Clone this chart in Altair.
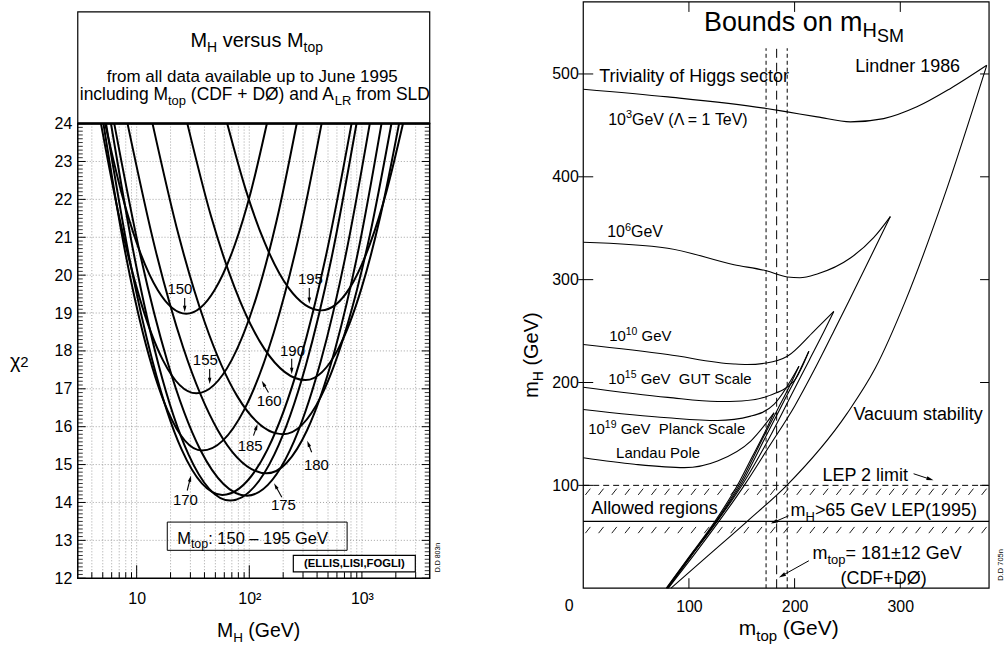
import math
import altair as alt
import pandas as pd

FONT = "Liberation Sans"

# ================= LEFT PANEL DATA =================
mtop_list = [150, 155, 160, 165, 170, 175, 180, 185, 190, 195]
curve_logmh = [
    [0.720, 0.864, 1.008, 1.188, 1.440, 1.691, 1.870, 2.013, 2.156],
    [0.683, 0.852, 1.022, 1.234, 1.530, 1.842, 2.065, 2.243, 2.421],
    [0.705, 0.880, 1.055, 1.274, 1.580, 1.952, 2.217, 2.430, 2.642],
    [0.728, 0.934, 1.141, 1.399, 1.760, 2.162, 2.449, 2.678, 2.908],
    [0.772, 0.984, 1.195, 1.460, 1.830, 2.223, 2.503, 2.728, 2.952],
    [0.801, 1.037, 1.273, 1.567, 1.980, 2.362, 2.634, 2.852, 3.070],
    [0.919, 1.166, 1.413, 1.722, 2.155, 2.512, 2.766, 2.970, 3.174],
    [1.141, 1.373, 1.605, 1.894, 2.300, 2.637, 2.877, 3.070, 3.262],
    [1.450, 1.660, 1.870, 2.133, 2.500, 2.791, 2.998, 3.164, 3.330],
    [1.804, 1.971, 2.138, 2.347, 2.640, 2.894, 3.075, 3.220, 3.365],
]
curve_chi2 = [
    [24, 22.19, 20.79, 19.60, 18.98, 19.60, 20.79, 22.19, 24],
    [24, 21.44, 19.44, 17.75, 16.88, 17.75, 19.44, 21.44, 24],
    [24, 20.89, 18.48, 16.43, 15.37, 16.43, 18.48, 20.89, 24],
    [24, 20.47, 17.73, 15.40, 14.20, 15.40, 17.73, 20.47, 24],
    [24, 20.42, 17.63, 15.27, 14.05, 15.27, 17.63, 20.42, 24],
    [24, 20.47, 17.72, 15.38, 14.18, 15.38, 17.72, 20.47, 24],
    [24, 20.68, 18.09, 15.90, 14.77, 15.90, 18.09, 20.68, 24],
    [24, 21.05, 18.75, 16.80, 15.80, 16.80, 18.75, 21.05, 24],
    [24, 21.56, 19.67, 18.06, 17.23, 18.06, 19.67, 21.56, 24],
    [24, 22.23, 20.85, 19.67, 19.07, 19.67, 20.85, 22.23, 24],
]
lbl_text = ["150", "195", "190", "155", "160", "185", "180", "170", "175"]
lbl_mh = [24.2, 349, 242, 40.7, 150, 101.9, 394.5, 27.1, 201]
lbl_chi2 = [19.645, 19.908, 18.0, 17.763, 16.684, 15.5, 15.0, 14.053, 13.921]
arr_mh0 = [26.7, 341, 238, 44.5, 148, 109, 358, 28.1, 194.5]
arr_c0 = [19.395, 19.658, 17.79, 17.526, 16.903, 15.763, 15.324, 14.316, 14.139]
arr_mh1 = [26.7, 341, 238, 44.5, 129, 118.3, 327, 30.4, 166]
arr_c1 = [19.026, 19.245, 17.387, 17.124, 17.21, 16.071, 15.632, 14.711, 14.508]

x_major = [10, 100, 1000]
x_minor = [m * 10 ** e for e in range(0, 4) for m in range(2, 10) if 3 < m * 10 ** e < 4000]
y_labels = list(range(12, 25))
y_grid = list(range(13, 24))
y_minor = [round(12 + i / 10, 1) for i in range(1, 120) if i % 10]

# ================= RIGHT PANEL DATA =================
up_names = ["1e3", "1e6", "1e10", "1e15", "1e19", "landau"]
up_mtop = [
    [0, 80, 173.3, 193.1, 221.4, 252.8, 284.3, 315.7, 347.2, 381.8],
    [0, 79.9, 142.7, 173.3, 193.1, 205, 221.4, 252.8, 275, 290.6],
    [0, 79.9, 142.7, 155, 173.3, 193.1, 218.2, 237.1],
    [0, 80, 127, 150, 174.2, 199.3, 213.5],
    [0, 79.9, 127.1, 158.5, 180.5, 204.1],
    [0, 48.4, 95.6, 127.1, 158.5, 180.5],
]
up_mh = [
    [485.2, 477.7, 466.4, 463.1, 458.3, 453.4, 456.6, 468, 485.7, 508.4],
    [336.4, 330.6, 314.5, 308.6, 302.6, 301.8, 305.5, 321, 341, 361.3],
    [236.9, 227.2, 218, 217.5, 219, 225.5, 249.8, 269.1],
    [195.4, 185.5, 181.5, 182, 186.7, 201.3, 230.4],
    [173.8, 165.7, 163.1, 167.3, 178.7, 215.8],
    [126.9, 120.5, 117.2, 123.7, 143.1, 170.5],
]
lo_mtop = [
    [83, 120, 155.4, 193.1, 249.7, 276.4, 304.7, 340.9, 381.8],
    [80.5, 103, 127, 153, 176, 200, 220, 237.1, 251.3, 290.6],
    [80, 102, 126, 152, 176, 198, 214, 228, 237.1],
    [79.5, 101.5, 125.5, 151, 172, 190, 205, 213.5],
    [79, 101, 125, 150, 168, 184, 196, 204.1],
    [78.5, 100.5, 124, 148, 160, 172, 180.5],
]
lo_mh = [
    [0, 33.3, 65.3, 100.5, 170, 214, 278.9, 379, 508.4],
    [0, 30, 63, 101, 138, 177, 215, 249.8, 278.9, 361.3],
    [0, 31, 64, 103, 146, 190, 222, 250, 269.1],
    [0, 31, 64, 104, 146, 182, 212, 230.4],
    [0, 31, 64, 105, 142, 174, 198, 215.8],
    [0, 31, 64, 104, 128, 152, 170.5],
]
mtop_band = [173, 183, 193]
lep2_limit = 100
lep95_limit = 65
r_xticks = [100, 200, 300]
r_yticks = [100, 200, 300, 400, 500]

# ================= helpers =================
W = {' ': 278, '!': 278, '(': 333, ')': 333, '+': 584, ',': 278, '-': 333, '.': 278,
     '/': 278, ':': 278, '=': 584, '>': 584, '±': 584, '–': 556, 'Λ': 667, 'Ø': 778,
     'χ': 520, '\u00a0': 278}
for d in "0123456789":
    W[d] = 556
W.update(dict(A=667, B=667, C=722, D=722, E=667, F=611, G=778, H=722, I=278, J=500, K=667,
              L=556, M=833, N=722, O=778, P=667, Q=778, R=722, S=667, T=611, U=722, V=667,
              W=944, X=667, Y=667, Z=611))
W.update(dict(a=556, b=556, c=500, d=556, e=556, f=278, g=556, h=556, i=222, j=222, k=500,
              l=222, m=833, n=556, o=556, p=556, q=556, r=333, s=500, t=278, u=556, v=500,
              w=722, x=500, y=500, z=500))


def tw(s, size):
    return sum(W.get(ch, 556) for ch in s) * size / 1000.0


OFF = 122          # top of the left plot area (below the caption box)
LW, LPH = 353, 456  # left plot area
LH = OFF + LPH      # left panel view height
RW, RH = 407, 588

LXS = alt.Scale(type="log", domain=[3, 4000], nice=False)
LYS = alt.Scale(domain=[12, 24], range=[LH, OFF], nice=False, zero=False)
RXS = alt.Scale(domain=[0, 384], nice=False, zero=False)
RYS = alt.Scale(domain=[0, 570], nice=False, zero=False)

LAXX = alt.Axis(values=x_major, labelExpr="datum.value == 10 ? '10' : (datum.value == 100 ? '10²' : '10³')",
                ticks=False, tickSize=0, domain=False, grid=False, labelFont=FONT, labelFontSize=16,
                labelColor="black", labelPadding=12, labelFlush=False, labelOverlap=False, title=None)
LAXY = alt.Axis(values=y_labels, ticks=False, tickSize=0, domain=False, grid=False, labelFont=FONT,
                labelFontSize=16, labelColor="black", labelPadding=6, labelFlush=False,
                labelOverlap=False, title=None)
RAXX = alt.Axis(values=r_xticks, ticks=False, tickSize=0, domain=False, grid=False, labelFont=FONT,
                labelFontSize=16, labelColor="black", labelPadding=10, labelFlush=False,
                labelOverlap=False, title=None)
RAXY = alt.Axis(values=r_yticks, ticks=False, tickSize=0, domain=False, grid=False, labelFont=FONT,
                labelFontSize=16, labelColor="black", labelPadding=5, labelFlush=False,
                labelOverlap=False, title=None)

SC = {"L": (LXS, LYS, LAXX, LAXY), "R": (RXS, RYS, RAXX, RAXY)}


def X(side, f="x"):
    return alt.X(f"{f}:Q", scale=SC[side][0], axis=SC[side][2])


def Y(side, f="y"):
    return alt.Y(f"{f}:Q", scale=SC[side][1], axis=SC[side][3])


def one():
    return pd.DataFrame({"a": [0]})


def rich(segs, pos, side=None, angle=0, weight="normal"):
    layers = []
    off = 0.0
    for text, size, dy in segs:
        lead = len(text) - len(text.lstrip(" "))
        disp = text.strip(" ").replace("  ", " \u00a0")
        dxp = off + tw(text[:lead], size)
        off += tw(text, size)
        if not disp:
            continue
        kw = dict(align="left", baseline="alphabetic", font=FONT, fontSize=size, color="black",
                  dx=round(dxp, 2), dy=dy, fontWeight=weight)
        if angle:
            kw["angle"] = angle
        d = pd.DataFrame({"x": [pos[0]], "y": [pos[1]], "t": [disp]})
        if side is None:
            enc = dict(x=alt.value(pos[0]), y=alt.value(pos[1]))
        else:
            enc = dict(x=X(side), y=Y(side))
        layers.append(alt.Chart(d).mark_text(**kw).encode(text="t:N", **enc))
    return layers


LOG3, LOG4K = math.log10(3), math.log10(4000)


def lpx(v): return LW * (math.log10(v) - LOG3) / (LOG4K - LOG3)
def lpy(v): return OFF + LPH * (24 - v) / 12
def lix(p): return 10 ** (LOG3 + p / LW * (LOG4K - LOG3))
def liy(p): return 24 - (p - OFF) * 12 / LPH
def rpx(v): return RW * v / 384
def rpy(v): return RH * (570 - v) / 570
def rix(p): return p * 384 / RW
def riy(p): return 570 - p * 570 / RH


MAP = {"L": (lpx, lpy, lix, liy), "R": (rpx, rpy, rix, riy)}
HEAD_PATH = "M0,-1L0.55,1L-0.55,1Z"


def arrows(side, x0s, y0s, x1s, y1s, width=1.0, head=60):
    px, py, ix, iy = MAP[side]
    shafts, heads = [], []
    back = math.sqrt(head) / 2
    for x0, y0, x1, y1 in zip(x0s, y0s, x1s, y1s):
        sx, sy, tx, ty = px(x0), py(y0), px(x1), py(y1)
        L = math.hypot(tx - sx, ty - sy)
        ux, uy = (tx - sx) / L, (ty - sy) / L
        hx, hy = tx - back * ux, ty - back * uy
        ang = math.degrees(math.atan2(ux, -uy)) % 360
        shafts.append({"x": x0, "y": y0, "x2": ix(hx), "y2": iy(hy)})
        heads.append({"x": ix(hx), "y": iy(hy), "a": round(ang, 1)})
    s = alt.Chart(pd.DataFrame(shafts)).mark_rule(color="black", strokeWidth=width).encode(
        x=X(side), y=Y(side), x2="x2:Q", y2="y2:Q")
    h = alt.Chart(pd.DataFrame(heads)).mark_point(shape=HEAD_PATH, filled=True, size=head, color="black",
                                                   opacity=1, strokeWidth=0).encode(
        x=X(side), y=Y(side), angle=alt.Angle("a:Q", scale=None))
    return [s, h]


DOT = dict(color="#8c8c8c", strokeWidth=0.8, strokeDash=[1, 2])

# ================= LEFT PANEL =================
left = []
left.append(alt.Chart(pd.DataFrame({"x": x_minor + x_major})).mark_rule(**DOT).encode(
    x=X("L"), y=alt.value(OFF), y2=alt.value(LH)))
left.append(alt.Chart(pd.DataFrame({"y": y_grid})).mark_rule(**DOT).encode(
    y=Y("L"), x=alt.value(0), x2=alt.value(LW)))

rows = []
for k, lm, cc in zip(mtop_list, curve_logmh, curve_chi2):
    for i, (a, b) in enumerate(zip(lm, cc)):
        rows.append({"x": 10 ** a, "y": b, "k": str(k), "o": i})
left.append(alt.Chart(pd.DataFrame(rows)).mark_line(color="black", strokeWidth=2, interpolate="monotone").encode(
    x=X("L"), y=Y("L"), detail="k:N", order="o:Q"))

# ticks
left.append(alt.Chart(pd.DataFrame({"x": x_minor})).mark_rule(color="black", strokeWidth=1).encode(
    x=X("L"), y=alt.value(LH), y2=alt.value(LH - 6)))
left.append(alt.Chart(pd.DataFrame({"x": x_major})).mark_rule(color="black", strokeWidth=1).encode(
    x=X("L"), y=alt.value(LH), y2=alt.value(LH - 13)))
left.append(alt.Chart(pd.DataFrame({"y": y_minor})).mark_rule(color="black", strokeWidth=0.8).encode(
    y=Y("L"), x=alt.value(0), x2=alt.value(5)))
left.append(alt.Chart(pd.DataFrame({"y": y_minor})).mark_rule(color="black", strokeWidth=0.8).encode(
    y=Y("L"), x=alt.value(LW), x2=alt.value(LW - 5)))
left.append(alt.Chart(pd.DataFrame({"y": y_labels})).mark_rule(color="black", strokeWidth=1).encode(
    y=Y("L"), x=alt.value(0), x2=alt.value(8)))
left.append(alt.Chart(pd.DataFrame({"y": y_labels})).mark_rule(color="black", strokeWidth=1).encode(
    y=Y("L"), x=alt.value(LW), x2=alt.value(LW - 8)))

# frames
left.append(alt.Chart(one()).mark_rect(fillOpacity=0, stroke="black", strokeWidth=1.5).encode(
    x=alt.value(0), x2=alt.value(LW), y=alt.value(OFF), y2=alt.value(LH)))
left.append(alt.Chart(one()).mark_rect(fillOpacity=0, stroke="black", strokeWidth=1.2).encode(
    x=alt.value(0), x2=alt.value(LW), y=alt.value(OFF - 112), y2=alt.value(OFF)))
left.append(alt.Chart(one()).mark_rule(color="black", strokeWidth=2.5).encode(
    x=alt.value(0), x2=alt.value(LW), y=alt.value(OFF)))

# curve labels + arrows
left.append(alt.Chart(pd.DataFrame({"x": lbl_mh, "y": lbl_chi2, "t": lbl_text})).mark_text(
    font=FONT, fontSize=15, color="black", align="center", baseline="middle").encode(
    x=X("L"), y=Y("L"), text="t:N"))
left += arrows("L", arr_mh0, arr_c0, arr_mh1, arr_c1, width=1.1, head=40)

# boxes
left.append(alt.Chart(pd.DataFrame({"x": [18.7], "x2": [739], "y": [13.482], "y2": [12.737]})).mark_rect(
    fillOpacity=0, stroke="black", strokeWidth=1).encode(x=X("L"), x2="x2:Q", y=Y("L"), y2="y2:Q"))
left += rich([("M", 16.5, 0), ("top", 12.5, 4), (": 150 – 195 GeV", 16.5, 0)], (22.9, 12.913), side="L")
left.append(alt.Chart(pd.DataFrame({"x": [246], "x2": [2980], "y": [12.605], "y2": [12.166]})).mark_rect(
    fill="white", stroke="black", strokeWidth=1.2).encode(x=X("L"), x2="x2:Q", y=Y("L"), y2="y2:Q"))
left.append(alt.Chart(pd.DataFrame({"x": [857], "y": [12.38], "t": ["(ELLIS,LISI,FOGLI)"]})).mark_text(
    font=FONT, fontSize=11.3, fontWeight="bold", color="black", align="center", baseline="middle").encode(
    x=X("L"), y=Y("L"), text="t:N"))

# caption box texts and axis titles
left += rich([("M", 20, 0), ("H", 14, 5), (" versus M", 20, 0), ("top", 14, 5)], (113, OFF - 77))
left.append(alt.Chart(pd.DataFrame({"t": ["from all data available up to June 1995"]})).mark_text(
    font=FONT, fontSize=17, color="black", align="center", baseline="alphabetic").encode(
    x=alt.value(175), y=alt.value(OFF - 42), text="t:N"))
left += rich([("including M", 17.5, 0), ("top", 13, 5), (" (CDF + DØ) and A", 17.5, 0), ("LR", 13, 5),
              (" from SLD", 17.5, 0)], (2, OFF - 24))
left += rich([("χ", 20, 0), ("2", 15, -1)], (-68, OFF + 245))
left += rich([("M", 19.5, 0), ("H", 13.5, 5), (" (GeV)", 19.5, 0)], (139.7, OFF + 514.7))
left += rich([("D.D 803n", 7, 0)], (363, OFF + 450), angle=270)

# layout anchors (white)
left.append(alt.Chart(one()).mark_rule(color="white", strokeWidth=1).encode(
    x=alt.value(-77), x2=alt.value(-76), y=alt.value(300), y2=alt.value(301)))
left.append(alt.Chart(one()).mark_rule(color="white", strokeWidth=1).encode(
    x=alt.value(379), x2=alt.value(380), y=alt.value(300), y2=alt.value(301)))

left_chart = alt.layer(*left).properties(width=LW, height=LH)

# ================= RIGHT PANEL =================
right = []
hatch = []
s = 2.0
while s < 378:
    hatch.append({"x": s, "x2": s + 4.7, "y": 90.7, "y2": 96.8})
    hatch.append({"x": s, "x2": s + 4.7, "y": 53.5, "y2": 59.6})
    s += 12.5
right.append(alt.Chart(pd.DataFrame(hatch)).mark_rule(color="black", strokeWidth=0.9).encode(
    x=X("R"), x2="x2:Q", y=Y("R"), y2="y2:Q"))
right.append(alt.Chart(pd.DataFrame({"x": [0], "x2": [384], "y": [lep2_limit]})).mark_rule(
    color="black", strokeWidth=1, strokeDash=[6, 4]).encode(x=X("R"), x2="x2:Q", y=Y("R")))
right.append(alt.Chart(pd.DataFrame({"x": [0], "x2": [384], "y": [lep95_limit]})).mark_rule(
    color="black", strokeWidth=1.1).encode(x=X("R"), x2="x2:Q", y=Y("R")))
right.append(alt.Chart(pd.DataFrame({"x": [mtop_band[0], mtop_band[2]], "y": [0, 0], "y2": [525, 525]})).mark_rule(
    color="black", strokeWidth=1, strokeDash=[4, 3]).encode(x=X("R"), y=Y("R"), y2="y2:Q"))
right.append(alt.Chart(pd.DataFrame({"x": [mtop_band[1]], "y": [0], "y2": [525]})).mark_rule(
    color="black", strokeWidth=1, strokeDash=[9, 5]).encode(x=X("R"), y=Y("R"), y2="y2:Q"))

rows = []
for nm, xs, ys in zip(up_names, up_mtop, up_mh):
    for i, (a, b) in enumerate(zip(xs, ys)):
        rows.append({"x": a, "y": b, "k": "u" + nm, "o": i})
for nm, xs, ys in zip(up_names, lo_mtop, lo_mh):
    for i, (a, b) in enumerate(zip(xs, ys)):
        rows.append({"x": a, "y": b, "k": "l" + nm, "o": i})
right.append(alt.Chart(pd.DataFrame(rows)).mark_line(color="black", strokeWidth=1.1, interpolate="monotone").encode(
    x=X("R"), y=Y("R"), detail="k:N", order="o:Q"))

# ticks + frame
right.append(alt.Chart(pd.DataFrame({"y": r_yticks})).mark_rule(color="black", strokeWidth=1).encode(
    y=Y("R"), x=alt.value(-5), x2=alt.value(10)))
right.append(alt.Chart(pd.DataFrame({"y": r_yticks})).mark_rule(color="black", strokeWidth=1).encode(
    y=Y("R"), x=alt.value(RW), x2=alt.value(RW - 9)))
right.append(alt.Chart(pd.DataFrame({"x": r_xticks})).mark_rule(color="black", strokeWidth=1).encode(
    x=X("R"), y=alt.value(RH), y2=alt.value(RH - 10)))
right.append(alt.Chart(pd.DataFrame({"x": r_xticks})).mark_rule(color="black", strokeWidth=1).encode(
    x=X("R"), y=alt.value(0), y2=alt.value(10)))
right.append(alt.Chart(one()).mark_rect(fillOpacity=0, stroke="black", strokeWidth=1.2).encode(
    x=alt.value(0), x2=alt.value(RW), y=alt.value(0), y2=alt.value(RH)))
right.append(alt.Chart(pd.DataFrame({"x": [0], "t": ["0"]})).mark_text(
    font=FONT, fontSize=16, color="black", align="center", baseline="top", dx=-14).encode(
    x=X("R"), y=alt.value(RH + 10), text="t:N"))

# annotations
right += rich([("Bounds on m", 27, 0), ("H", 20, 6), ("SM", 18, 11)], (114.2, 541.7), side="R")
right += rich([("Triviality of Higgs sector", 18, 0)], (15.1, 492.2), side="R")
right += rich([("Lindner 1986", 18, 0)], (257.5, 502), side="R")
right += rich([("10", 16, 0), ("3", 11, -7), ("GeV (Λ = 1 TeV)", 16, 0)], (23.6, 450.2), side="R")
right += rich([("10", 16, 0), ("6", 11, -7), ("GeV", 16, 0)], (22.6, 341), side="R")
right += rich([("10", 15, 0), ("10", 10.5, -6), (" GeV", 15, 0)], (24.5, 240.7), side="R")
right += rich([("10", 15, 0), ("15", 10.5, -6), (" GeV  GUT Scale", 15, 0)], (23.6, 198.6), side="R")
right += rich([("10", 15, 0), ("19", 10.5, -6), (" GeV  Planck Scale", 15, 0)], (4.7, 150.2), side="R")
right += rich([("Landau Pole", 15, 0)], (31.1, 126.9), side="R")
right += rich([("Vacuum stability", 18, 0)], (255.7, 163.1), side="R")
right += rich([("LEP 2 limit", 18, 0)], (226.4, 104.3), side="R")
right += rich([("Allowed regions", 18, 0)], (7.5, 72.6), side="R")
right += rich([("m", 18, 0), ("H", 13, 5), (">65 GeV LEP(1995)", 18, 0)], (196.2, 70.3), side="R")
right += rich([("m", 18, 0), ("top", 13, 5), ("= 181±12 GeV", 18, 0)], (217, 28.6), side="R")
right += rich([("(CDF+DØ)", 18, 0)], (243.4, 4.4), side="R")
right += rich([("D.D 705n", 7.5, 0)], (397, 7.3), side="R", angle=270)
right += arrows("R", [312.6, 194.3, 213.5], [111.3, 70.4, 26.7], [331.4, 177.4, 185.2], [104.9, 62.9, 10.5],
                width=1, head=50)

right += rich([("m", 21, 0), ("top", 15, 6), (" (GeV)", 21, 0)], (156, 635))
right += rich([("m", 20, 0), ("H", 14, 5), (" (GeV)", 20, 0)], (-45.3, 397), angle=270)

right.append(alt.Chart(one()).mark_rule(color="white", strokeWidth=1).encode(
    x=alt.value(-125), x2=alt.value(-124), y=alt.value(300), y2=alt.value(301)))

right_chart = alt.layer(*right).properties(width=RW, height=RH)

chart = alt.hconcat(left_chart, right_chart, spacing=0).properties(padding=0).configure_view(strokeWidth=0)
chart.save("out.html", embed_options={"renderer": "svg", "actions": False})
